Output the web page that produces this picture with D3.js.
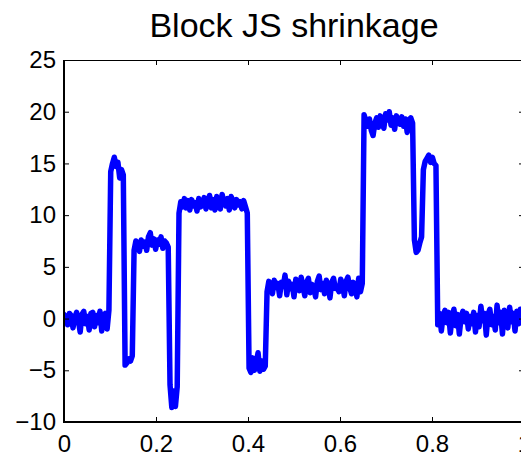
<!DOCTYPE html>
<html>
<head>
<meta charset="utf-8">
<script src="https://cdn.jsdelivr.net/npm/d3@7"></script>
<style>
  body { margin: 0; background: #fff; }
  svg { display: block; }
  text { font-family: "Liberation Sans", Arial, Helvetica, sans-serif; fill: #000; }
</style>
</head>
<body>
<div id="chart"></div>
<script>
// chart text and ticks
const title = "Block JS shrinkage";
const xTicks = [0, 0.2, 0.4, 0.6, 0.8, 1];
const yTicks = [-10, -5, 0, 5, 10, 15, 20, 25];

// estimated shrinkage output, 256 samples on [0, 1)
const signal = [
  0.4, 0.2, -0.6, 0.5, 0.3, -0.9, 0.1, 0.6, -0.2, -1.3, 0.4, 0.7, -0.5, 0.2, -1.1, 0.5, 0.6, -0.8, 0.3, -0.4, 0.7, -1.2, 0.1, 0.5, -1.0, 0.8,
  14.2, 15.0, 15.6, 14.7, 15.1, 13.6, 14.4, 13.9,
  -4.5, -4.3, -3.9, -4.1, -3.6,
  6.6, 7.5, 7.2, 6.5, 7.6, 7.0, 7.4, 6.6, 7.9, 8.3, 7.1, 7.7, 6.7, 7.6, 7.2, 7.9, 6.8, 7.5, 7.3, 6.9,
  -6.4, -8.6, -7.0, -8.5, -6.6,
  10.2, 11.3, 10.8, 11.6, 10.7, 11.4, 10.5, 11.5, 10.9, 11.2, 10.4, 11.6, 10.8, 11.0, 11.7, 10.6, 11.3, 11.9, 10.7, 11.5,
  10.5, 11.8, 11.1, 10.6, 12.0, 11.2, 10.9, 11.6, 10.5, 11.8, 11.4, 10.7, 11.5, 11.0, 11.3, 10.6, 11.4, 10.8, 10.2,
  -4.8, -5.2, -3.8, -5.0, -4.2, -3.3, -5.1, -4.1, -4.9, -4.6,
  2.6, 3.6, 3.2, 2.4, 3.7, 3.0, 3.4, 2.2, 3.5, 3.1, 4.2, 2.3, 3.6, 2.9, 3.3, 2.1, 3.8, 3.2, 2.7, 4.0,
  3.1, 2.2, 3.5, 3.9, 2.5, 3.3, 3.0, 2.1, 3.6, 4.1, 2.8, 3.4, 2.4, 3.7, 3.2, 2.0, 3.5, 3.9, 2.9, 3.1,
  2.6, 3.8, 3.3, 2.2, 3.6, 4.0, 3.0, 2.4, 3.5, 3.2, 2.1, 3.9, 2.6, 3.4,
  19.7, 19.1, 18.6, 19.3, 18.2, 17.7, 18.9, 19.4, 18.5, 19.6, 19.0, 18.4, 19.8, 19.2, 20.0, 18.7, 19.4, 18.3, 19.6, 19.1,
  18.8, 19.5, 18.6, 19.3, 18.0, 19.2, 19.4, 18.9,
  7.6, 6.4, 6.6, 7.3, 7.9,
  14.4, 15.2, 15.5, 15.8, 15.1, 15.6, 15.0, 14.8,
  -0.6, 0.5, -1.2, 0.3, 0.8, -0.4, 0.6, -1.4, 0.2, 0.9, -0.7, 0.4, -1.5, 0.1, 0.7, -0.3, 0.5, -1.0, 0.2, -0.5,
  0.6, -1.3, 0.3, -0.8, 1.2, -0.2, 0.5, -1.6, 0.4, 0.9, -0.6, 0.2, -1.1, 1.3, -0.4, 0.6, -1.5, 0.8, 0.1, -0.9,
  1.1, -0.3, 0.5, -1.2, 0.7, -0.5, 0.9, 0.2
];

const W = 521, H = 456;
const margin = {top: 60, right: -3, bottom: 34, left: 64};
const width = W - margin.left - margin.right,   // 460
      height = H - margin.top - margin.bottom;  // 362

const svg = d3.select("#chart").append("svg")
    .attr("width", W)
    .attr("height", H);

const g = svg.append("g")
    .attr("transform", "translate(" + margin.left + "," + margin.top + ")");

const x = d3.scaleLinear().domain([0, 1]).range([0, width]);
const y = d3.scaleLinear().domain([-10, 25]).range([height, 0]);

// clip so the line stays in the axes box
g.append("clipPath").attr("id", "plotclip")
  .append("rect").attr("width", width).attr("height", height);

// the line
const line = d3.line()
    .x((d, i) => x(i / signal.length))
    .y(d => y(d));

g.append("path")
    .datum(signal)
    .attr("clip-path", "url(#plotclip)")
    .attr("fill", "none")
    .attr("stroke", "#0000ff")
    .attr("stroke-width", 5.5)
    .attr("stroke-linejoin", "round")
    .attr("stroke-linecap", "round")
    .attr("d", line);

const fmt = d3.format("");

// bottom axis (ticks pointing inward)
const xb = g.append("g")
    .attr("transform", "translate(0," + height + ")")
    .call(d3.axisBottom(x).tickValues(xTicks).tickFormat(fmt)
      .tickSizeInner(-5).tickSizeOuter(0).tickPadding(13));
// left axis
const yl = g.append("g")
    .call(d3.axisLeft(y).tickValues(yTicks).tickFormat(fmt)
      .tickSizeInner(-5).tickSizeOuter(0).tickPadding(8));
// top and right: ticks only
const xt = g.append("g")
    .call(d3.axisTop(x).tickValues(xTicks).tickFormat("")
      .tickSizeInner(-5).tickSizeOuter(0));
const yr = g.append("g")
    .attr("transform", "translate(" + width + ",0)")
    .call(d3.axisRight(y).tickValues(yTicks).tickFormat("")
      .tickSizeInner(-5).tickSizeOuter(0));

[xb, yl, xt, yr].forEach(a => {
  a.select(".domain").remove();
  a.selectAll(".tick line").attr("stroke", "#000").attr("stroke-width", 1);
  a.selectAll("text")
    .style("font-size", "24px")
    .style("font-family", "'Liberation Sans', Arial, Helvetica, sans-serif")
    .attr("fill", "#000");
});

// box
g.append("line").attr("x1", 0).attr("x2", width).attr("y1", 0.5).attr("y2", 0.5)
    .attr("stroke", "#000").attr("stroke-width", 1);
g.append("line").attr("x1", 0).attr("x2", width).attr("y1", height).attr("y2", height)
    .attr("stroke", "#000").attr("stroke-width", 2);
g.append("line").attr("x1", 0).attr("x2", 0).attr("y1", 0).attr("y2", height + 1)
    .attr("stroke", "#000").attr("stroke-width", 2);
g.append("line").attr("x1", width).attr("x2", width).attr("y1", 0).attr("y2", height)
    .attr("stroke", "#000").attr("stroke-width", 1);

// title
svg.append("text")
    .attr("x", margin.left + width / 2)
    .attr("y", 37)
    .attr("text-anchor", "middle")
    .style("font-size", "34px")
    .text(title);
</script>
</body>
</html>
